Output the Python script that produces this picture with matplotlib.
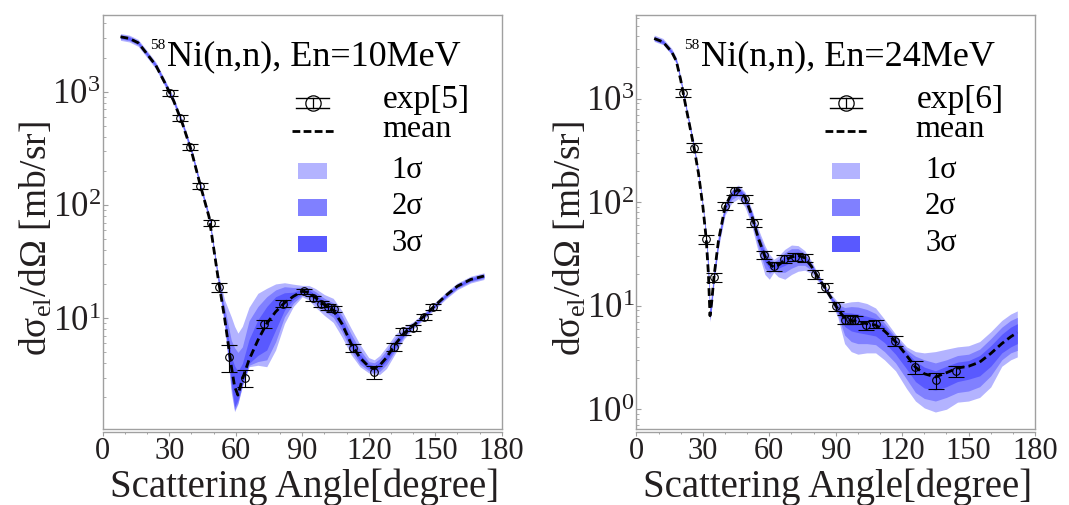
import numpy as np
import matplotlib
matplotlib.use('Agg')
import matplotlib.pyplot as plt
from matplotlib.ticker import MultipleLocator, LogLocator, LogFormatterMathtext, NullFormatter
from matplotlib.patches import Rectangle
from matplotlib.lines import Line2D

plt.rcParams['font.family'] = ['Liberation Serif', 'DejaVu Serif']
plt.rcParams['mathtext.fontset'] = 'custom'
plt.rcParams['mathtext.rm'] = 'Liberation Serif'
plt.rcParams['mathtext.it'] = 'Liberation Serif:italic'
plt.rcParams['mathtext.bf'] = 'Liberation Serif:bold'

# ---------------- 10 MeV panel ----------------
th10 = [8, 12, 16, 20, 24, 28, 32, 36, 40, 44, 48, 52, 55, 58, 59.5, 61, 63, 66, 70, 74,
        78, 82, 86, 90, 93, 96, 100, 104, 108, 112, 116, 120, 122.5, 125, 128, 132, 136, 140,
        145, 150, 155, 160, 166, 172]
mean10 = [3050, 2950, 2700, 2150, 1700, 1200, 830, 520, 300, 150, 78, 23, 10, 3.8, 2.5, 2.1, 2.9, 4.3, 6.4, 9.0,
          11.4, 13.7, 15.6, 17.3, 16.9, 15.2, 13.2, 11.8, 8.9, 6.0, 4.5, 3.75, 3.6, 3.85, 4.5, 5.9, 7.4, 8.6,
          10.5, 13.0, 16.0, 19.2, 22.0, 23.6]
lo1_10 = [2840, 2745, 2510, 2000, 1580, 1115, 772, 484, 279, 140, 72.5, 21, 8.5, 2.2, 1.5, 1.75, 2.5, 3.74, 3.85, 3.74,
          5.25, 9.0, 12.7, 15.5, 14.5, 12.5, 10.6, 9.2, 6.8, 4.8, 3.75, 3.3, 3.2, 3.2, 3.6, 4.9, 6.6, 8.0,
          9.8, 12.1, 14.9, 17.9, 20.5, 22.0]
hi1_10 = [3260, 3155, 2890, 2300, 1820, 1285, 888, 556, 321, 160, 83.5, 25.5, 14.5, 10.3, 8.5, 7.4, 8.5, 12.5, 16.6, 18.4,
          20.1, 20.6, 20.0, 19.5, 19.5, 18.3, 16.2, 15.0, 11.6, 8.2, 5.9, 4.5, 4.3, 4.7, 5.6, 7.2, 8.4, 9.3,
          11.2, 13.9, 17.1, 20.5, 23.5, 25.2]
lo2_10 = [2915, 2820, 2580, 2055, 1625, 1145, 793, 497, 287, 143, 74.5, 22, 9.0, 2.4, 1.55, 1.8, 2.55, 3.85, 4.15, 4.3,
          6.2, 10.3, 13.6, 16.0, 15.3, 13.4, 11.6, 10.2, 7.6, 5.2, 3.95, 3.45, 3.3, 3.4, 3.9, 5.2, 6.9, 8.2,
          10.05, 12.45, 15.3, 18.35, 21.0, 22.55]
hi2_10 = [3190, 3085, 2820, 2245, 1775, 1255, 867, 543, 313, 157, 81.5, 24.5, 12.5, 6.4, 5.5, 5.0, 5.6, 9.5, 12.7, 15.5,
          17.8, 19.0, 18.7, 18.8, 18.6, 17.2, 15.0, 13.7, 10.5, 7.3, 5.3, 4.15, 4.05, 4.4, 5.2, 6.7, 8.0, 9.0,
          10.95, 13.55, 16.7, 20.05, 23.0, 24.65]
lo3_10 = [2975, 2875, 2635, 2095, 1660, 1170, 810, 507, 293, 146, 76, 22.4, 9.5, 2.7, 1.65, 1.9, 2.65, 4.0, 4.7, 5.25,
          7.9, 11.8, 14.6, 16.6, 16.1, 14.3, 12.4, 11.0, 8.3, 5.6, 4.2, 3.6, 3.45, 3.6, 4.2, 5.5, 7.1, 8.4,
          10.25, 12.7, 15.6, 18.75, 21.5, 23.0]
hi3_10 = [3125, 3025, 2770, 2205, 1740, 1230, 850, 533, 307, 154, 80, 23.7, 11.0, 4.6, 3.8, 3.4, 4.0, 6.5, 9.7, 12.7,
          15.5, 16.8, 17.0, 18.2, 17.8, 16.2, 14.1, 12.7, 9.6, 6.6, 4.85, 3.95, 3.8, 4.1, 4.8, 6.3, 7.7, 8.8,
          10.75, 13.3, 16.4, 19.65, 22.5, 24.2]
exp10_theta = [30.4, 34.9, 39.4, 43.9, 48.7, 52.6, 57.1, 64.2, 72.8, 81.3, 90.8, 95.0, 98.5, 101.5, 104.5,
               112.8, 122.4, 131.3, 135.7, 140.1, 144.8, 149.2]
exp10_sigma = [980, 582, 323, 148, 69.8, 18.9, 4.6, 3.0, 8.9, 13.5, 17.3, 15.0, 13.3, 12.5, 12.1,
               5.45, 3.37, 5.6, 7.65, 8.25, 10.3, 12.7]
exp10_err = [60, 35, 20, 9, 4.5, 1.7, 1.25, 0.5, 0.75, 1.0, 0.9, 0.8, 0.8, 0.75, 0.75,
             0.45, 0.45, 0.45, 0.5, 0.55, 0.7, 0.8]

# ---------------- 24 MeV panel ----------------
th24 = [8, 12, 16, 18, 20, 22, 24, 26, 28, 30, 31.5, 32.5, 33.2, 34, 35, 37, 40, 43, 46, 49,
        52, 55, 58, 60, 62, 64, 67, 70, 73, 76, 79, 82, 85, 88, 91, 94, 97, 100, 104, 108,
        112, 117, 122, 126, 130, 135, 140, 145, 150, 155, 160, 165, 169, 172]
mean24 = [3800, 3520, 2800, 2300, 1500, 900, 550, 335, 190, 90, 44, 20, 8.0, 11, 19, 42, 90, 122, 132, 112,
          75, 45, 30, 25.5, 23.5, 24.5, 27.5, 29.5, 30.5, 29, 24, 18.8, 15, 11.8, 9.2, 7.6, 7.2, 7.0, 6.7, 6.5,
          5.7, 4.5, 3.3, 2.55, 2.2, 2.05, 2.25, 2.5, 2.6, 2.85, 3.45, 4.3, 5.0, 5.5]
lo1_24 = [3560, 3310, 2630, 2160, 1410, 845, 517, 315, 178, 84, 40, 17, 7.0, 9.5, 16.5, 36, 75, 98, 108, 90,
          60, 33, 20, 18, 21, 19, 18, 20, 21.5, 22, 20.5, 17.2, 14, 10.9, 7.6, 4.3, 3.6, 3.4, 3.5, 3.5,
          3.0, 2.35, 1.58, 1.2, 1.03, 0.94, 1.0, 1.17, 1.2, 1.3, 1.64, 2.6, 3.0, 3.2]
hi1_24 = [4100, 3800, 3030, 2490, 1625, 975, 595, 362, 206, 98, 52, 27, 10.5, 14, 23, 48, 98, 133, 146, 125,
          86, 55, 38, 31.5, 28, 30, 35, 38.5, 38, 34, 27, 20.3, 16, 12.8, 10.8, 10.6, 10.9, 11.0, 10.5, 9.5,
          7.4, 5.3, 4.0, 3.6, 3.5, 3.6, 3.8, 4.0, 4.1, 4.5, 5.6, 7.2, 8.3, 8.9]
lo2_24 = [3620, 3360, 2675, 2200, 1435, 860, 525, 320, 182, 86, 41.5, 18, 7.3, 10, 17.3, 38, 80, 106, 116, 98,
          65, 37, 23, 20.5, 22, 21, 21, 23, 24.5, 24.5, 22, 17.8, 14.4, 11.3, 8.1, 5.2, 4.5, 4.3, 4.3, 4.2,
          3.6, 2.8, 1.95, 1.45, 1.27, 1.2, 1.3, 1.45, 1.5, 1.65, 2.1, 3.0, 3.5, 3.7]
hi2_24 = [3990, 3680, 2925, 2400, 1570, 940, 575, 350, 198, 94, 48, 24, 9.2, 12.8, 21.5, 46, 95, 129, 141, 120,
          82, 51, 35, 29.5, 26.5, 28, 32.5, 35.5, 35.5, 32, 25.8, 19.7, 15.6, 12.3, 10.3, 9.6, 9.8, 9.7, 9.2, 8.4,
          6.8, 5.0, 3.75, 3.25, 3.0, 2.8, 3.0, 3.3, 3.4, 3.8, 4.8, 6.2, 7.2, 7.7]
lo3_24 = [3700, 3430, 2730, 2245, 1465, 880, 536, 327, 185, 88, 42.5, 19, 7.6, 10.5, 18.2, 40, 85, 114, 124, 105,
          70, 41, 26.5, 23, 22.8, 23, 24.5, 26.5, 27.5, 27, 23, 18.3, 14.7, 11.55, 8.6, 6.3, 5.7, 5.5, 5.3, 5.1,
          4.4, 3.4, 2.45, 1.85, 1.6, 1.53, 1.65, 1.85, 1.95, 2.1, 2.6, 3.5, 4.0, 4.3]
hi3_24 = [3900, 3610, 2870, 2360, 1540, 925, 564, 343, 195, 92, 45.5, 22, 8.6, 11.8, 20.2, 44, 93, 126, 137, 116,
          79, 48, 32.5, 27.5, 25, 26.5, 30, 32.5, 33, 30.5, 25, 19.3, 15.3, 12.05, 9.8, 8.6, 8.5, 8.3, 7.9, 7.5,
          6.3, 4.8, 3.55, 2.9, 2.55, 2.35, 2.6, 2.85, 2.95, 3.3, 4.1, 5.3, 6.2, 6.7]
exp24_theta = [21.1, 26.0, 31.6, 35.0, 40.2, 44.2, 48.8, 53.3, 57.4, 62.3, 66.7, 71.6, 76.1, 80.8, 85.3,
               89.9, 94.2, 96.5, 98.7, 103.6, 108.0, 116.8, 125.8, 135.2, 144.3]
exp24_sigma = [1137, 335, 44, 19, 92, 129, 107, 63, 31, 24, 28.3, 29.7, 28.9, 20, 15,
               9.9, 7.35, 7.4, 7.3, 6.5, 6.7, 4.58, 2.55, 1.9, 2.34]
exp24_err = [110, 33, 4.5, 1.9, 9, 12, 10, 6, 3, 2.3, 2.6, 2.7, 2.7, 1.9, 1.4,
             0.95, 0.7, 0.7, 0.7, 0.65, 0.65, 0.5, 0.35, 0.32, 0.29]

xticks = [0, 30, 60, 90, 120, 150, 180]
band_colors = ['#b3b3ff', '#8080ff', '#5959ff']
legend_band_labels = ['1σ', '2σ', '3σ']
GRAY = '#a0a0a0'
TXT = '#231f20'


def panel(ax, th, mean, bands, ex_t, ex_y, ex_e, ylim, title, explabel):
    for (lo, hi), c in zip(bands, band_colors):
        ax.fill_between(th, lo, hi, color=c, lw=0, zorder=1)
    ax.plot(th, mean, color='black', lw=2.0, dashes=(2.8, 1.5), zorder=3)
    ax.errorbar(ex_t, ex_y, yerr=ex_e, fmt='o', mfc='none', mec='black', ms=5.5, mew=0.8,
                ecolor='black', elinewidth=0.8, capsize=6, capthick=1.0, zorder=5)
    ax.set_yscale('log')
    ax.set_xlim(0, 180)
    ax.set_ylim(*ylim)
    ax.set_xticks(xticks)
    ax.xaxis.set_minor_locator(MultipleLocator(10))
    ax.yaxis.set_major_locator(LogLocator(base=10))
    ax.yaxis.set_major_formatter(LogFormatterMathtext())
    ax.yaxis.set_minor_locator(LogLocator(base=10, subs=np.arange(2, 10)))
    ax.yaxis.set_minor_formatter(NullFormatter())
    for s in ax.spines.values():
        s.set_color(GRAY)
        s.set_linewidth(1.0)
    ax.spines['bottom'].set_position(('outward', 1.8))
    ax.plot([0, 1], [0, 0], transform=ax.transAxes, color=GRAY, lw=1.0, clip_on=False, zorder=6)
    ax.tick_params(axis='x', which='major', direction='out', length=2.6, width=0.8, color=GRAY,
                   labelsize=22, labelcolor=TXT, pad=1.5)
    ax.tick_params(axis='x', which='minor', direction='out', length=1.4, width=0.7, color=GRAY)
    ax.tick_params(axis='y', which='major', direction='in', length=3.5, width=0.8, color=GRAY,
                   labelsize=25, labelcolor=TXT, pad=1.5)
    ax.tick_params(axis='y', which='minor', direction='in', length=2.0, width=0.6, color=GRAY)
    ax.set_xlabel('Scattering Angle[degree]', fontsize=28, color=TXT)
    ax.xaxis.label.set_va('baseline')
    ax.xaxis.set_label_coords(0.505, -0.163)
    ax.set_ylabel('dσ$_{\\mathrm{el}}$/dΩ [mb/sr]', fontsize=27, color=TXT)
    ax.yaxis.label.set_va('center')
    ax.yaxis.set_label_coords(-0.166, 0.46)

    # title
    ax.text(0.161, 0.879, title, transform=ax.transAxes, fontsize=26, ha='left', va='baseline', color='black')
    ax.text(0.158, 0.918, '58', transform=ax.transAxes, fontsize=11, ha='right', va='baseline', color='black')

    # legend (drawn manually in axes fraction)
    T = ax.transAxes
    ex, ey, dy = 0.526, 0.787, 0.0128
    ax.add_line(Line2D([ex], [ey], marker='o', ms=11, mfc='none', mec='black', mew=0.9, transform=T))
    for yy in (ey - dy, ey + dy):
        ax.add_line(Line2D([0.4855, 0.567], [yy, yy], color='black', lw=1.0, transform=T))
    ax.add_line(Line2D([ex, ex], [ey - dy, ey + dy], color='black', lw=0.9, transform=T))
    ax.text(0.703, 0.794, explabel, transform=T, fontsize=24, ha='left', va='center', color='black')
    ax.add_line(Line2D([0.474, 0.582], [0.7195, 0.7195], color='black', lw=2.0, dashes=(2.8, 1.2), transform=T))
    ax.text(0.70, 0.722, 'mean', transform=T, fontsize=23, ha='left', va='center', color='black')
    for c, lab, yb, yt in zip(band_colors, legend_band_labels, [0.603, 0.515, 0.427], [0.643, 0.555, 0.467]):
        ax.add_patch(Rectangle((0.490, yb), 0.071, yt - yb, transform=T, color=c, lw=0))
        ax.text(0.724, (yb + yt) / 2 + 0.002, lab, transform=T, fontsize=22, ha='left', va='center', color='black')


fig = plt.figure(figsize=(10.69, 5.05), dpi=100)
ax1 = fig.add_axes([0.0961, 0.1499, 0.3732, 0.8210])
ax2 = fig.add_axes([0.5954, 0.1499, 0.3728, 0.8210])

panel(ax1, th10, mean10, [(lo1_10, hi1_10), (lo2_10, hi2_10), (lo3_10, hi3_10)],
      exp10_theta, exp10_sigma, exp10_err, (1.048, 4780), 'Ni(n,n), En=10MeV', 'exp[5]')
panel(ax2, th24, mean24, [(lo1_24, hi1_24), (lo2_24, hi2_24), (lo3_24, hi3_24)],
      exp24_theta, exp24_sigma, exp24_err, (0.64, 6450), 'Ni(n,n), En=24MeV', 'exp[6]')

fig.savefig('out.png', dpi=100)
